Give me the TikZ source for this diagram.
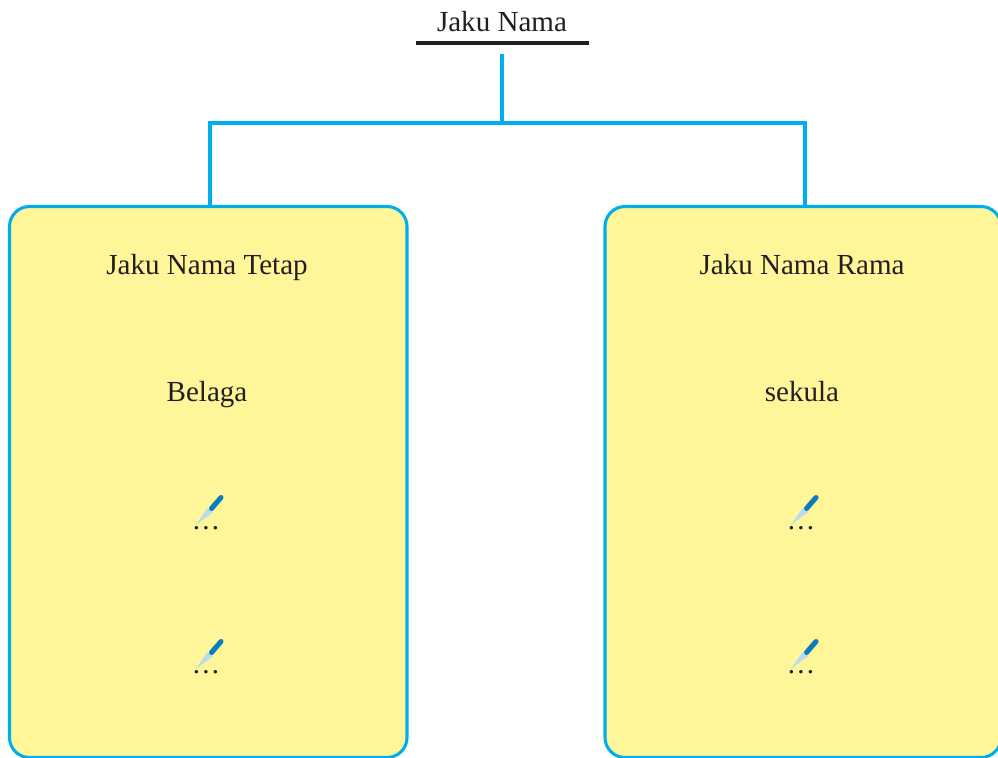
\documentclass[tikz,border=0pt]{standalone}
\usepackage{fontspec}
\setmainfont{Liberation Serif}
\definecolor{linecyan}{HTML}{00AEEF}
\definecolor{boxyellow}{HTML}{FFF599}
\definecolor{inkdark}{HTML}{231F20}
\definecolor{penblue}{HTML}{0A7CC1}
\definecolor{penlight}{HTML}{BFD9F0}
\tikzset{
  connector/.style={draw=linecyan,line width=2.3pt},
  panel/.style={draw=linecyan,line width=2.3pt,fill=boxyellow,rounded corners=15pt},
  label/.style={text=inkdark,font=\fontsize{21.8pt}{24pt}\selectfont,inner sep=0pt,anchor=base},
  pen/.pic={
    \fill[penlight] (-10.5,3.5) -- (1.5,-14) -- (7,-10) -- cycle;
    \draw[penblue,line width=3.8pt,line cap=round] (5.5,-13.5) -- (15,-24.5);
  }
}
\newcommand{\spaceddots}{.\hspace{1.7pt}.\hspace{1.7pt}.}
\begin{document}
\begin{tikzpicture}[x=0.75pt,y=-0.75pt]
\useasboundingbox (0,0) rectangle (998,757);
\path[clip] (0,0) rectangle (998,757);
% title
\node[label] (title) at (502,31) {Jaku Nama};
\coordinate (ruleL) at (416,43);
\coordinate (ruleR) at (589,43);
\draw[inkdark,line width=2.4pt] (ruleL) -- (ruleR);
% panels
\path[panel] (9.5,206.5) rectangle (407,757.5);
\path[panel] (605,206.5) rectangle (1001,757.5);
\coordinate (lefttop) at (210,206.5);
\coordinate (righttop) at (805,206.5);
% connectors
\coordinate (stem) at (502,54);
\coordinate (bus) at (502,123);
\draw[connector] (stem) -- (bus);
\draw[connector] (lefttop) |- (righttop |- bus) -- (righttop);
% left
\node[label] (lh) at (207,274) {Jaku Nama Tetap};
\node[label] (l1) at (207,401) {Belaga};
\node[label] (l2) at (206,529) {\spaceddots};
\node[label] (l3) at (206,673) {\spaceddots};
% right
\node[label] (rh) at (802,274) {Jaku Nama Rama};
\node[label] (r1) at (802,401) {sekula};
\node[label] (r2) at (801,529) {\spaceddots};
\node[label] (r3) at (801,673) {\spaceddots};
% pens
\pic at (206,522) {pen};
\pic at (206,666) {pen};
\pic at (801,522) {pen};
\pic at (801,666) {pen};
\end{tikzpicture}
\end{document}
